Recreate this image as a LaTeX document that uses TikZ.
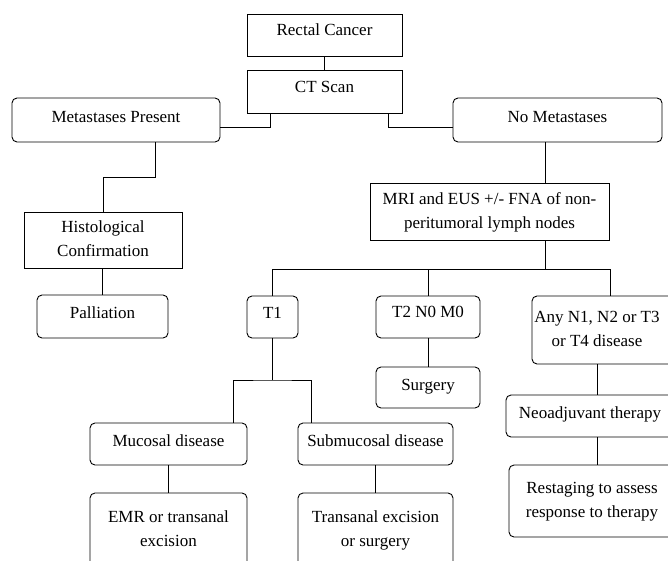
\documentclass[tikz,border=0pt]{standalone}
\usepackage{fontspec}
\setmainfont{Liberation Serif}
\newfontfamily\dfont{Liberation Serif}
\usetikzlibrary{calc}
\tikzset{
  box/.style={draw, line width=0.9pt, inner sep=1pt, font=\dfont\fontsize{17}{24}\selectfont},
  rbox/.style={box, rounded corners=5pt},
  oneline/.style={text height=16.8pt, text depth=7.2pt},
  link/.style={line width=0.9pt}
}
\newcommand{\twol}[2]{\begin{tabular}{@{}c@{}}#1\\#2\end{tabular}}
\begin{document}
\begin{tikzpicture}[x=1pt,y=-1pt]
\useasboundingbox (0,0) rectangle (668,560);
\clip (0,0) rectangle (668,560);

\node[box, oneline, minimum width=155pt, minimum height=42pt] (rc) at (324.5,35) {\raisebox{4pt}{Rectal Cancer}};
\node[box, oneline, minimum width=155pt, minimum height=43pt] (ct) at (324.5,91.5) {\raisebox{4pt}{CT Scan}};
\node[rbox, oneline, minimum width=208pt, minimum height=44pt] (mp) at (116,120) {\raisebox{2pt}{Metastases Present}};
\node[rbox, oneline, minimum width=209pt, minimum height=44pt] (nm) at (557.5,120) {\raisebox{2pt}{No Metastases}};
\node[box, minimum width=158pt, minimum height=56pt] (hc) at (103,240) {\twol{Histological}{Confirmation}};
\node[box, minimum width=239pt, minimum height=57pt] (mri) at (489.5,211.5) {\twol{MRI and EUS +/- FNA of non-}{peritumoral lymph nodes}};
\node[rbox, oneline, minimum width=131pt, minimum height=43pt] (pal) at (102.5,316.5) {\raisebox{3pt}{Palliation}};
\node[rbox, oneline, minimum width=51pt, minimum height=42pt] (t1) at (272.5,317) {\raisebox{3pt}{T1}};
\node[rbox, oneline, minimum width=104pt, minimum height=42pt] (t2) at (428,317) {\raisebox{4.5pt}{T2 N0 M0}};
\node[rbox, oneline, minimum width=104pt, minimum height=41pt] (surg) at (428,387.5) {\raisebox{2pt}{Surgery}};
\node[rbox, minimum width=156pt, minimum height=68pt] (any) at (610,330) {\hspace*{-26pt}\raisebox{12pt}{\twol{Any N1, N2 or T3}{or T4 disease}}};
\node[rbox, oneline, minimum width=182pt, minimum height=42pt] (neo) at (597,416) {\hspace*{-14pt}\raisebox{2.5pt}{Neoadjuvant therapy}};
\node[rbox, minimum width=176pt, minimum height=72pt] (rest) at (597,501) {\hspace*{-10pt}\raisebox{10pt}{\twol{Restaging to assess}{response to therapy}}};
\node[rbox, oneline, minimum width=157pt, minimum height=42pt] (muc) at (168.5,444) {\raisebox{2pt}{Mucosal disease}};
\node[rbox, oneline, minimum width=155pt, minimum height=42pt] (sub) at (375.5,444) {\raisebox{2pt}{Submucosal disease}};
\node[rbox, minimum width=157pt, minimum height=73pt] (emr) at (168.5,529.5) {\raisebox{3pt}{\twol{EMR or transanal}{excision}}};
\node[rbox, minimum width=155pt, minimum height=73pt] (tra) at (375.5,529.5) {\raisebox{3pt}{\twol{Transanal excision}{or surgery}}};

\coordinate (j1) at (270,127);
\coordinate (j2) at (388,127);
\coordinate (j3) at (155,177);
\coordinate (bar) at (545,269);
\coordinate (tb) at (272.5,380);

\draw[link] (rc.south) -- (ct.north);
\draw[link] (j1 |- ct.south) -- (j1) -- (j1 -| mp.east);
\draw[link] (j2 |- ct.south) -- (j2) -- (j2 -| nm.west);
\draw[link] (j3 |- mp.south) -- (j3) -| (hc.north);
\draw[link] (hc.south -| pal.north) -- (pal.north);
\draw[link] (bar |- nm.south) -- (bar |- mri.north);
\draw[link] (bar |- mri.south) -- (bar);
\draw[link] (t1.north) |- (bar);
\draw[link] (t2.north) -- (t2.north |- bar);
\draw[link] (any.north) |- (bar);
\draw[link] (t1.south) -- (tb);
\draw[link] ([xshift=65pt]muc.north) |- (tb) -| ([xshift=-64pt]sub.north);
\draw[link] (muc.south) -- (emr.north);
\draw[link] (sub.south) -- (tra.north);
\draw[link] (t2.south) -- (surg.north);
\draw[link] (neo.north |- any.south) -- (neo.north);
\draw[link] (neo.south) -- (rest.north);
\end{tikzpicture}
\end{document}
